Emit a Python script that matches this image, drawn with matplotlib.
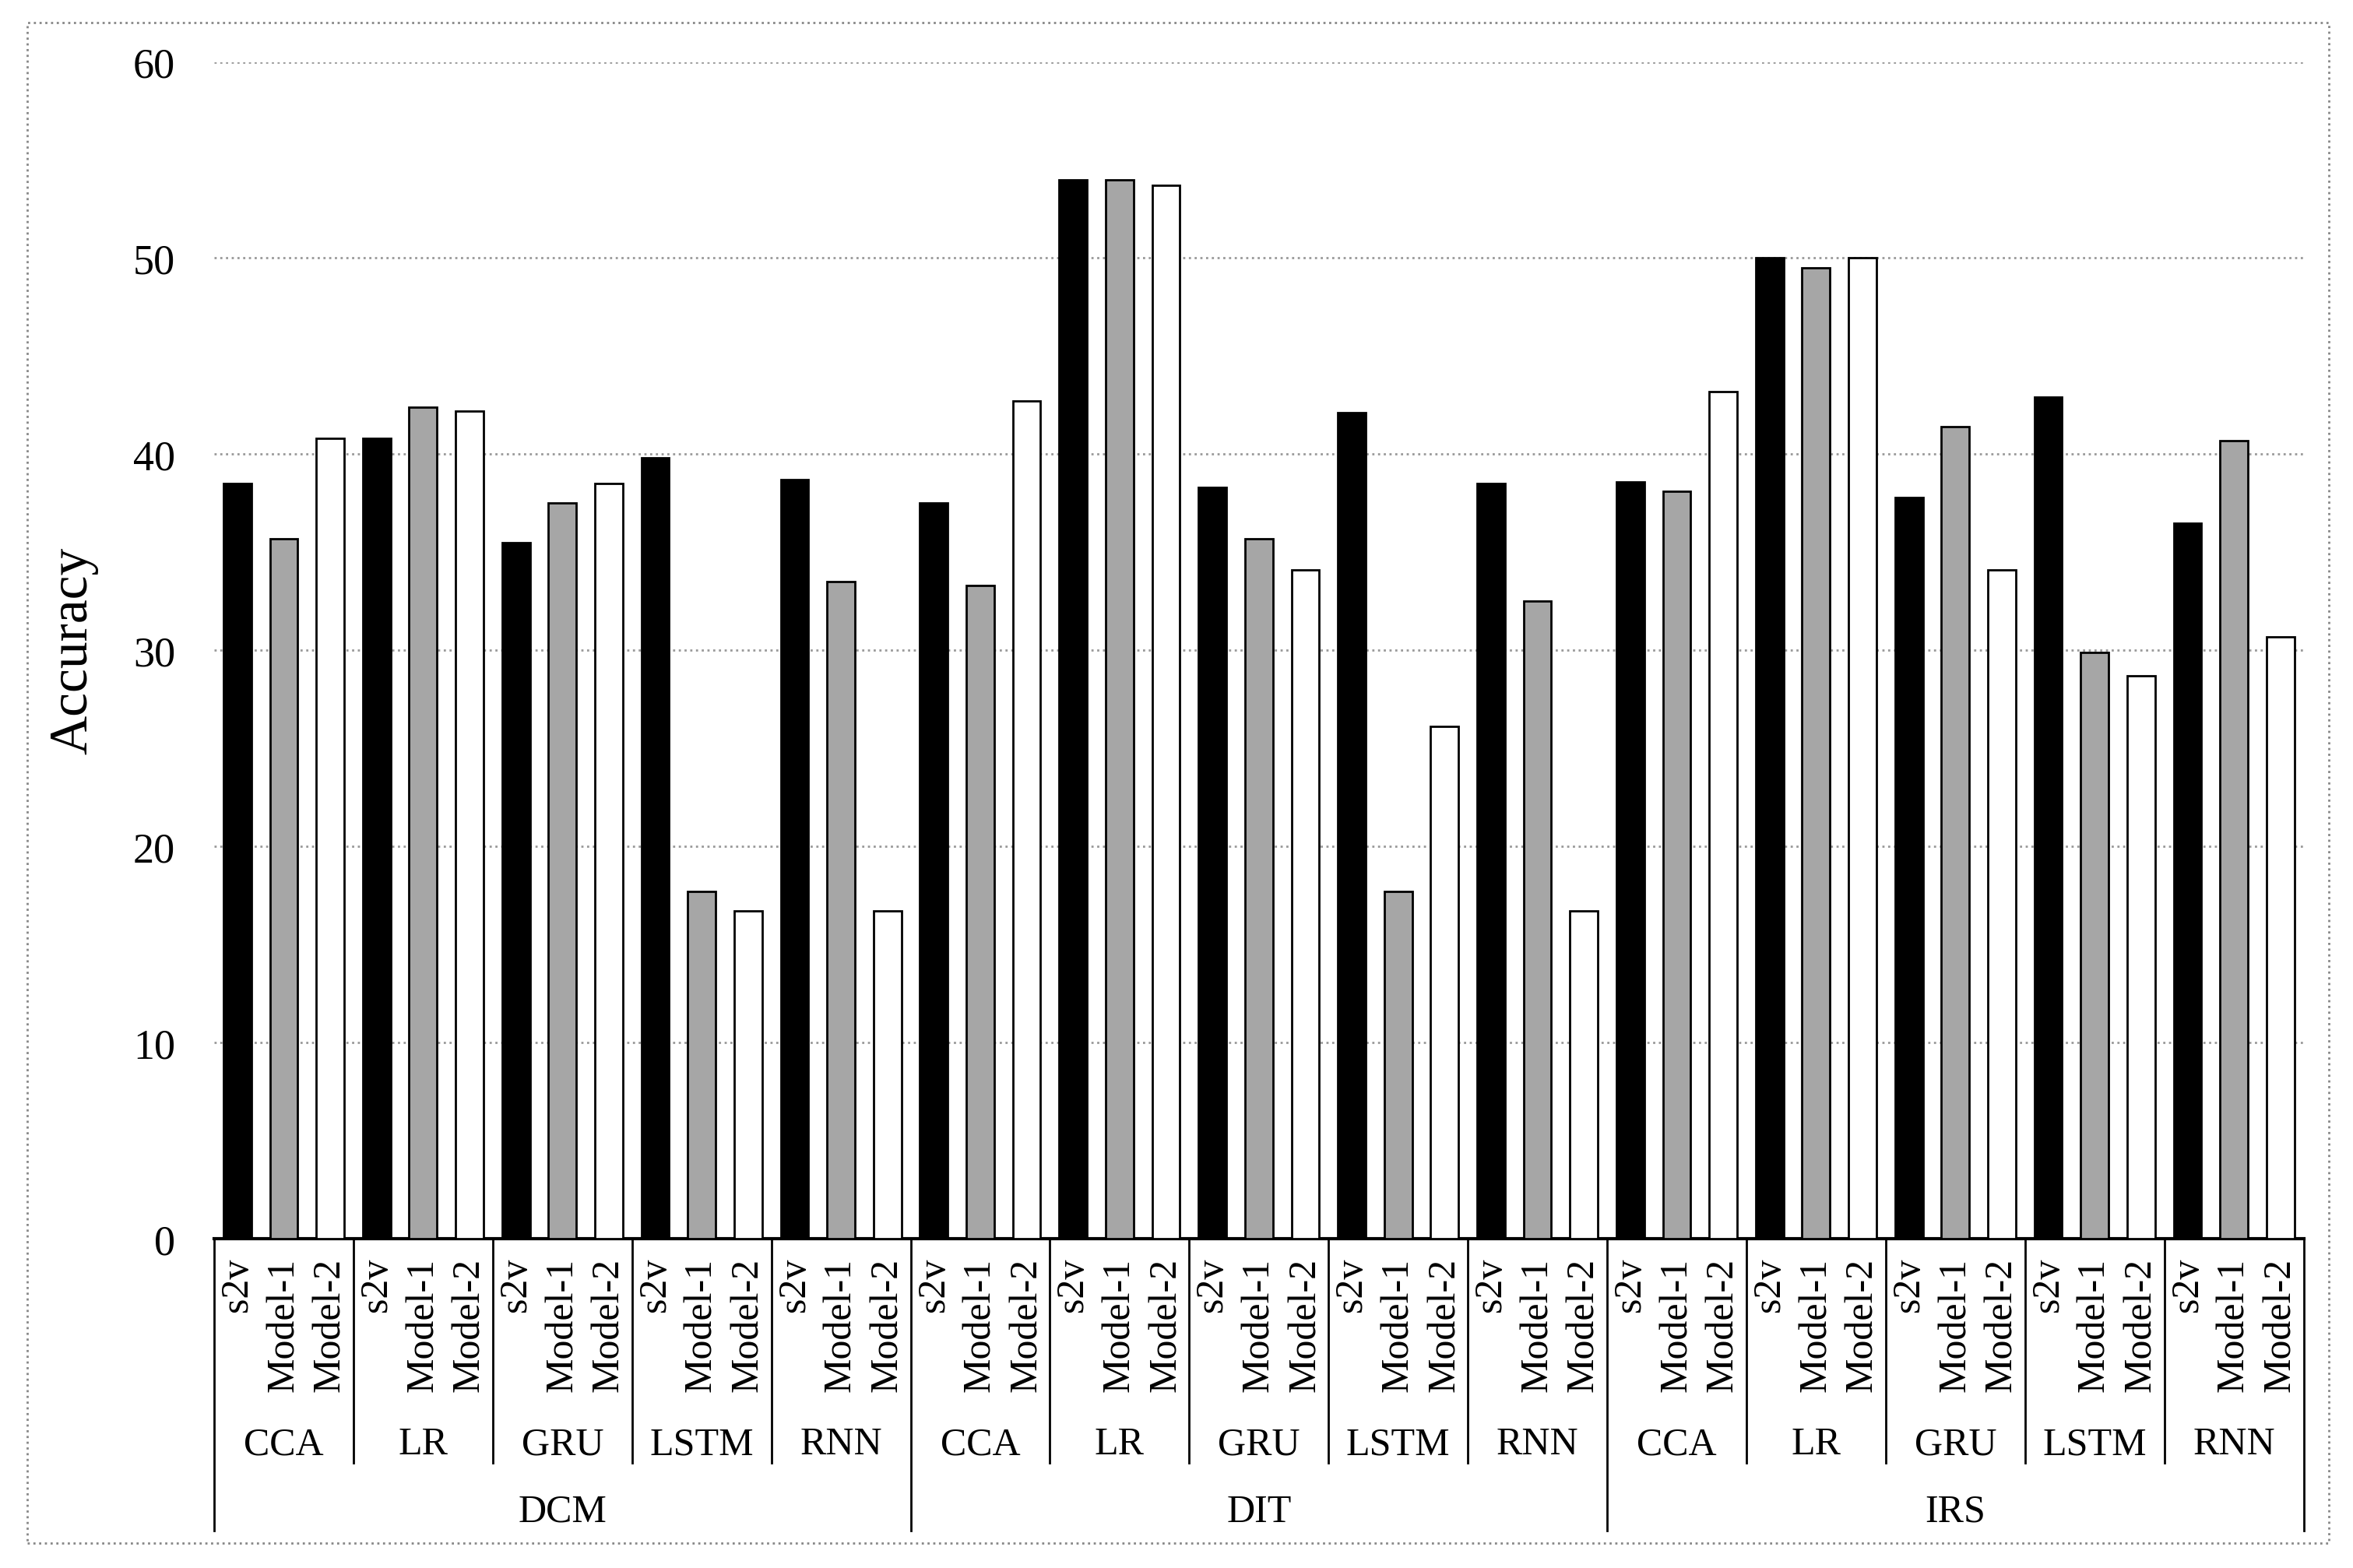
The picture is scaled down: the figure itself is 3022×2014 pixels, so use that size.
import numpy as np
import matplotlib.pyplot as plt
from matplotlib.transforms import blended_transform_factory
from matplotlib.patches import Rectangle

plt.rcParams['font.family'] = ['Liberation Serif', 'DejaVu Serif']

datasets = ["DCM", "DIT", "IRS"]
methods = ["CCA", "LR", "GRU", "LSTM", "RNN"]
models = ["s2v", "Model-1", "Model-2"]

# accuracy per dataset, per method, rows: s2v / Model-1 / Model-2
s2v = [38.5, 40.8, 35.5, 39.8, 38.7,
       37.5, 54.0, 38.3, 42.1, 38.5,
       38.6, 50.0, 37.8, 42.9, 36.5]
model1 = [35.7, 42.4, 37.5, 17.7, 33.5,
          33.3, 54.0, 35.7, 17.7, 32.5,
          38.1, 49.5, 41.4, 29.9, 40.7]
model2 = [40.8, 42.2, 38.5, 16.7, 16.7,
          42.7, 53.7, 34.1, 26.1, 16.7,
          43.2, 50.0, 34.1, 28.7, 30.7]

fig = plt.figure(figsize=(15.11, 10.075), dpi=200)
ax = fig.add_axes([0.091, 0.210, 0.888, 0.750])

n = len(s2v)
x = np.arange(n) * 3
colors = ['black', '#a6a6a6', 'white']
for k, vals in enumerate([s2v, model1, model2]):
    ax.bar(x + k, vals, width=0.6, color=colors[k], edgecolor='black',
           linewidth=1.0, zorder=3)

ax.set_xlim(-0.5, 3 * n - 0.5)
ax.set_ylim(0, 60)
ax.set_yticks(range(0, 61, 10))
ax.tick_params(axis='y', length=0, labelsize=19.5, pad=18)
ax.set_xticks([])
ax.yaxis.grid(True, linestyle=':', color='#999999', linewidth=1.0, zorder=0)
for s in ['left', 'right', 'top']:
    ax.spines[s].set_visible(False)
ax.spines['bottom'].set_linewidth(1.5)
ax.set_ylabel("Accuracy", fontsize=25, labelpad=16)

# multi-level category axis
tr = blended_transform_factory(ax.transData, fig.transFigure)
y_axis = 0.210
for i in range(3 * n):
    ax.text(i, 0.198, models[i % 3], rotation=90, ha='center', va='top',
            fontsize=18, transform=tr)
for g in range(n):
    ax.text(3 * g + 1, 0.079, methods[g % 5], ha='center', va='center',
            fontsize=18, transform=tr)
for d in range(3):
    ax.text(15 * d + 7, 0.036, datasets[d], ha='center', va='center',
            fontsize=18, transform=tr)
for g in range(n + 1):
    xs = 3 * g - 0.5
    y_end = 0.024 if g % 5 == 0 else 0.067
    ax.plot([xs, xs], [y_axis, y_end], color='black', linewidth=1.0,
            transform=tr, clip_on=False)

# dotted frame around the chart
fig.patches.append(Rectangle((0.0116, 0.016), 0.978, 0.969, fill=False,
                             linestyle=':', edgecolor='#888888',
                             linewidth=1.0, transform=fig.transFigure))

fig.savefig("out.png", dpi=200)
